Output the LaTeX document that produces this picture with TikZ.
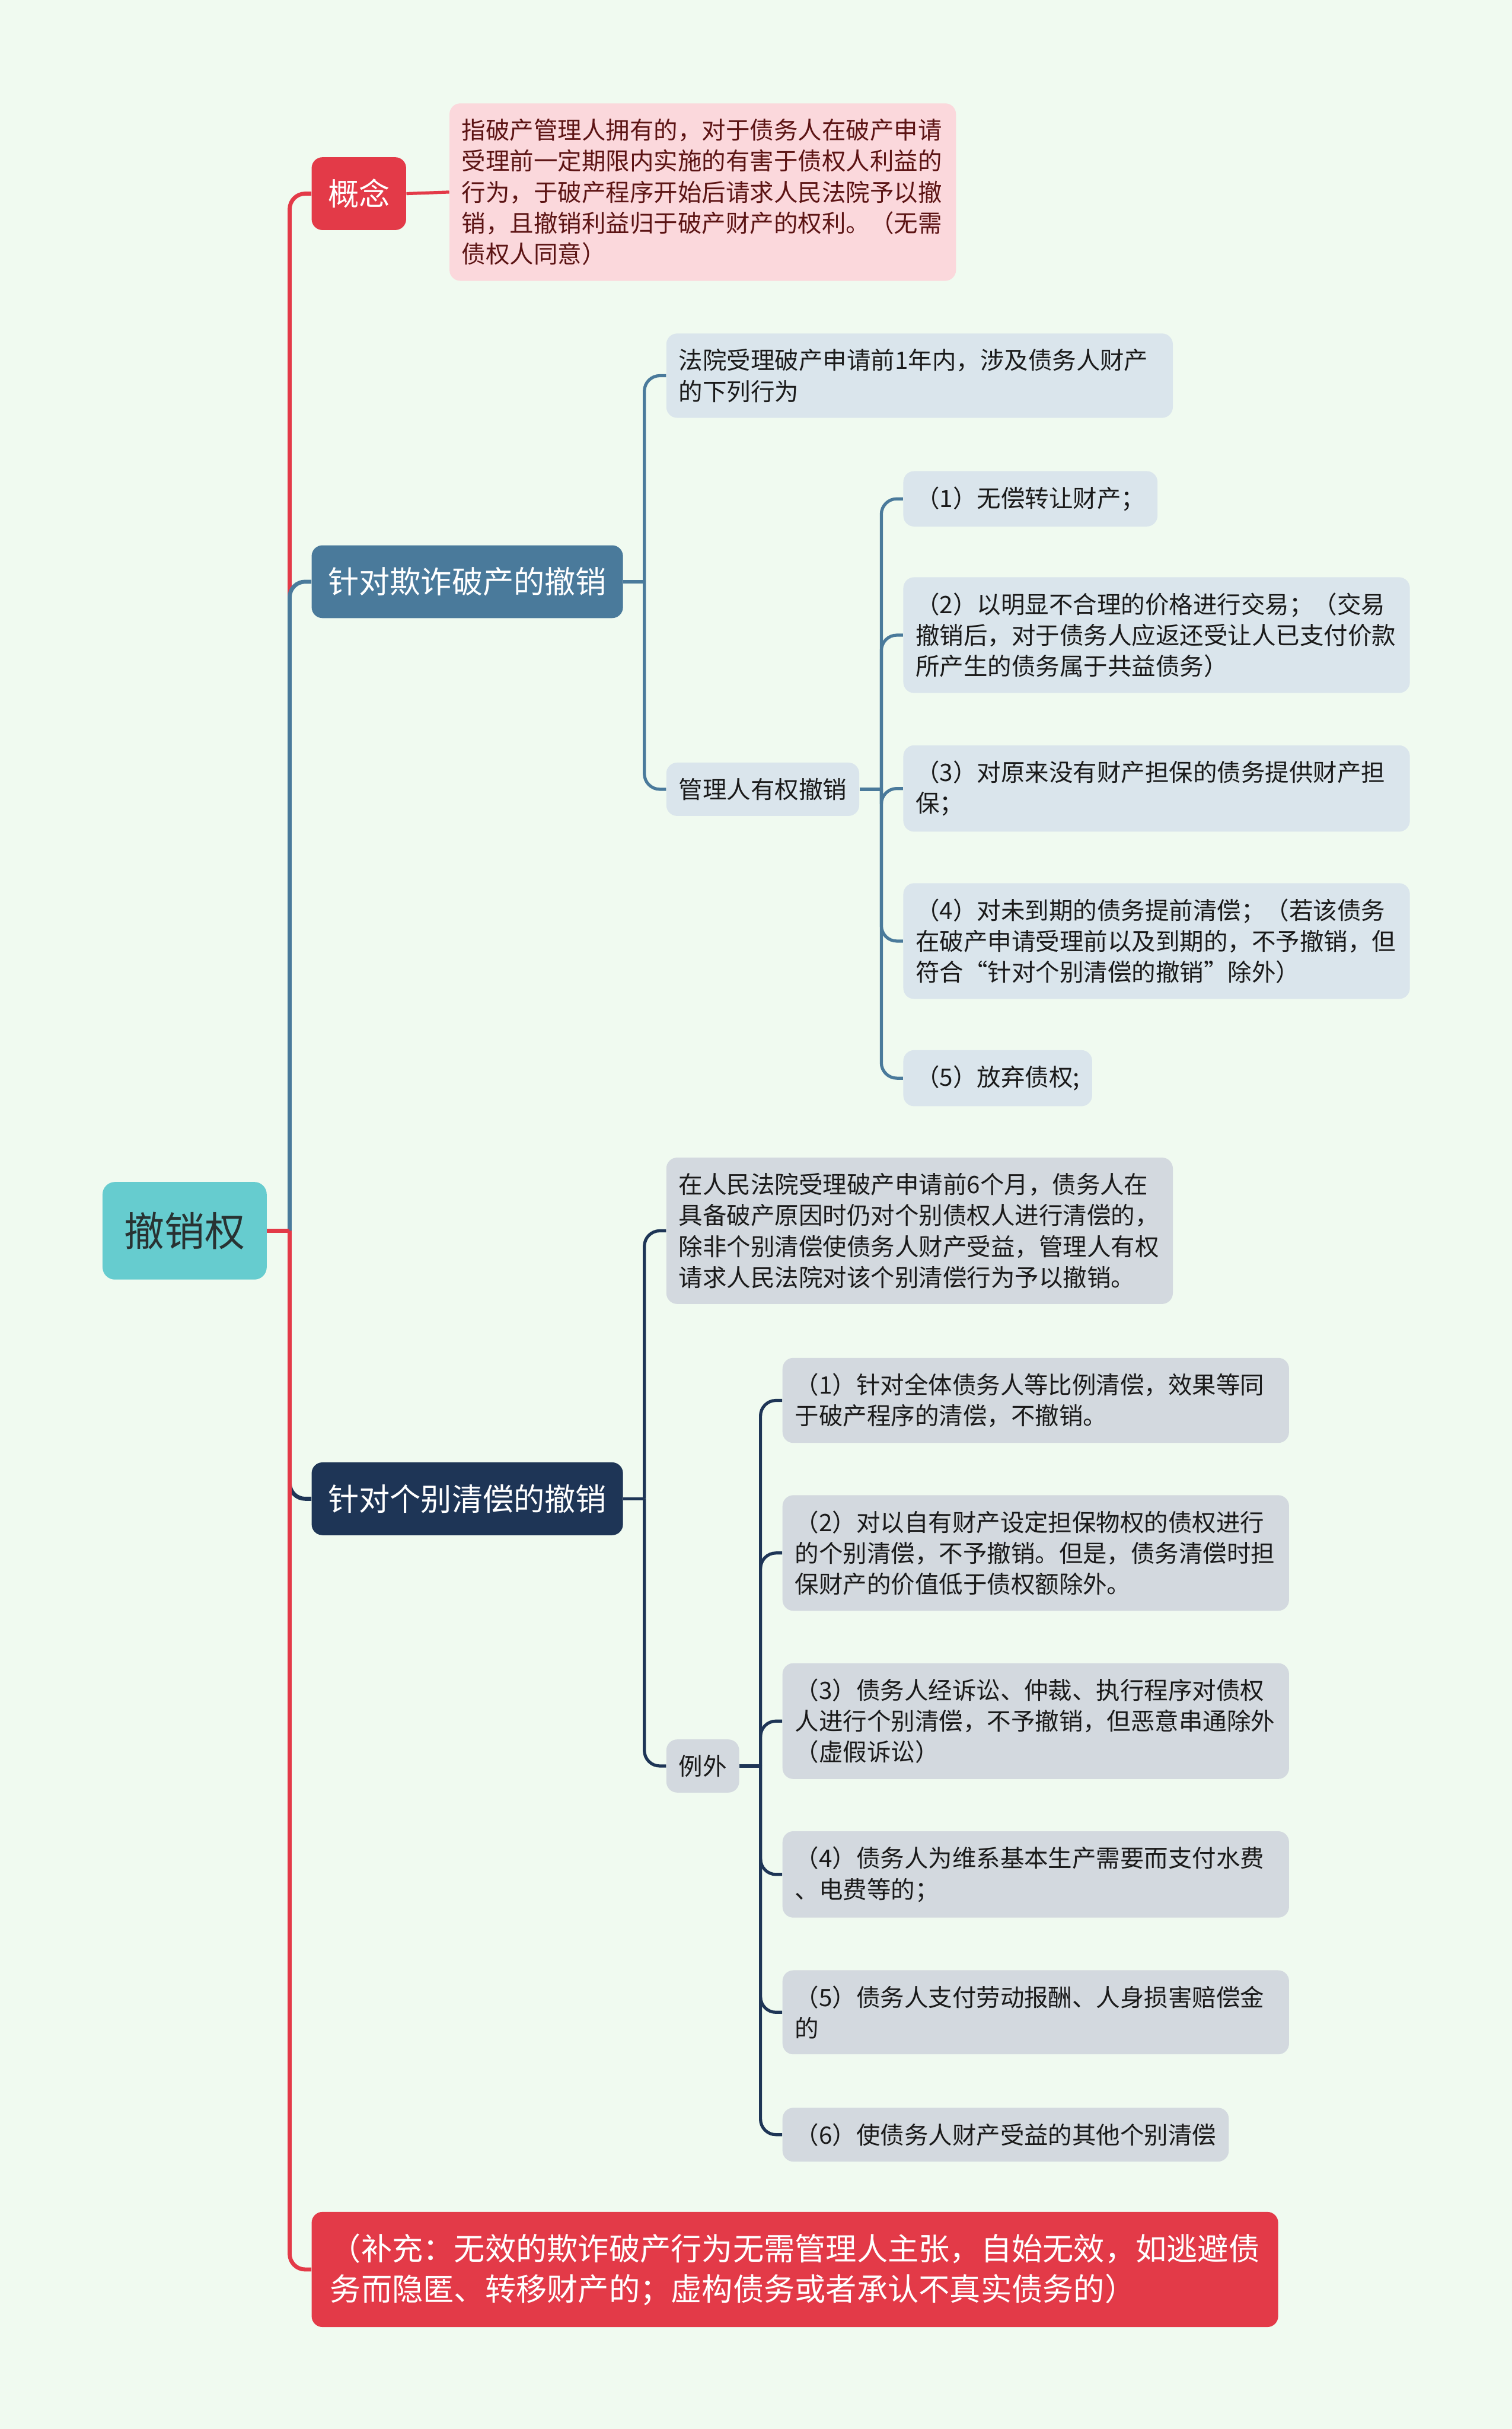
\documentclass[tikz,border=0pt]{standalone}
\usepackage{fontspec}
\setmainfont{Noto Sans CJK SC}
\usepackage{xcolor}
\definecolor{bg}{RGB}{240,250,240}
\definecolor{rootfill}{RGB}{102,204,207}
\definecolor{redfill}{RGB}{227,58,72}
\definecolor{steel}{RGB}{74,122,155}
\definecolor{navy}{RGB}{30,53,86}
\definecolor{pinkfill}{RGB}{251,216,220}
\definecolor{palefill}{RGB}{218,229,236}
\definecolor{grayfill}{RGB}{211,217,223}
\definecolor{maroon}{RGB}{92,20,20}
\definecolor{ink}{RGB}{26,26,26}

\tikzset{
  rootbox/.style={fill=rootfill, rounded corners=8pt, inner xsep=14pt,
    minimum height=63pt, anchor=west, text={rgb,255:red,40;green,50;blue,50},
    font=\fontsize{26}{30}\selectfont},
  topic/.style={rounded corners=7pt, inner xsep=10.5pt, minimum height=47pt,
    anchor=west, text=white, font=\fontsize{20}{26}\selectfont},
  leaf/.style={rounded corners=7pt, inner xsep=8pt, inner ysep=10pt,
    align=left, anchor=west, text=ink, font=\fontsize{15.5}{20}\selectfont},
  wide/.style={text width=311pt},
  link/.style={line width=2pt, rounded corners=10pt},
  trunk/.style={line width=2.6pt, rounded corners=10pt},
}

\begin{document}
\begin{tikzpicture}[x=1pt,y=-1pt]
  \fill[bg] (0,0) rectangle (976,1568);

  % root and main topics
  \node[rootbox] (root) at (66,794.5) {撤销权};
  \node[topic, fill=redfill] (concept) at (201,125) {概念};
  \node[topic, fill=steel] (fraud) at (201,375.5) {针对欺诈破产的撤销};
  \node[topic, fill=navy] (single) at (201,967.5) {针对个别清偿的撤销};
  \node[topic, fill=redfill, align=left, inner xsep=12pt, inner ysep=14pt] (extra) at (201,1465)
    {（补充：无效的欺诈破产行为无需管理人主张，自始无效，如逃避债\\
     务而隐匿、转移财产的；虚构债务或者承认不真实债务的）};

  % concept
  \node[leaf, wide, fill=pinkfill, text=maroon] (def) at (290,124)
    {指破产管理人拥有的，对于债务人在破产申请\\
     受理前一定期限内实施的有害于债权人利益的\\
     行为，于破产程序开始后请求人民法院予以撤\\
     销，且撤销利益归于破产财产的权利。（无需\\
     债权人同意）};

  % fraud branch
  \node[leaf, wide, fill=palefill] (court) at (430,242.5)
    {法院受理破产申请前1年内，涉及债务人财产\\
     的下列行为};
  \node[leaf, fill=palefill] (admin) at (430,509.5) {管理人有权撤销};
  \node[leaf, fill=palefill] (a1) at (583,322) {（1）无偿转让财产；};
  \node[leaf, wide, fill=palefill] (a2) at (583,410)
    {（2）以明显不合理的价格进行交易；（交易\\
     撤销后，对于债务人应返还受让人已支付价款\\
     所产生的债务属于共益债务）};
  \node[leaf, wide, fill=palefill] (a3) at (583,509)
    {（3）对原来没有财产担保的债务提供财产担\\
     保；};
  \node[leaf, wide, fill=palefill] (a4) at (583,607.5)
    {（4）对未到期的债务提前清偿；（若该债务\\
     在破产申请受理前以及到期的，不予撤销，但\\
     符合“针对个别清偿的撤销”除外）};
  \node[leaf, fill=palefill] (a5) at (583,696) {（5）放弃债权;};

  % single branch
  \node[leaf, wide, fill=grayfill] (rule) at (430,794.5)
    {在人民法院受理破产申请前6个月，债务人在\\
     具备破产原因时仍对个别债权人进行清偿的，\\
     除非个别清偿使债务人财产受益，管理人有权\\
     请求人民法院对该个别清偿行为予以撤销。};
  \node[leaf, fill=grayfill] (except) at (430,1140) {例外};
  \node[leaf, wide, fill=grayfill] (e1) at (505,904)
    {（1）针对全体债务人等比例清偿，效果等同\\
     于破产程序的清偿，不撤销。};
  \node[leaf, wide, fill=grayfill] (e2) at (505,1002.5)
    {（2）对以自有财产设定担保物权的债权进行\\
     的个别清偿，不予撤销。但是，债务清偿时担\\
     保财产的价值低于债权额除外。};
  \node[leaf, wide, fill=grayfill] (e3) at (505,1111)
    {（3）债务人经诉讼、仲裁、执行程序对债权\\
     人进行个别清偿，不予撤销，但恶意串通除外\\
     （虚假诉讼）};
  \node[leaf, wide, fill=grayfill] (e4) at (505,1210)
    {（4）债务人为维系基本生产需要而支付水费\\
     、电费等的；};
  \node[leaf, wide, fill=grayfill] (e5) at (505,1299)
    {（5）债务人支付劳动报酬、人身损害赔偿金\\
     的};
  \node[leaf, fill=grayfill] (e6) at (505,1378) {（6）使债务人财产受益的其他个别清偿};

  % junctions
  \coordinate (jr) at (187,794.5);
  \coordinate (jf) at (416,375.5);
  \coordinate (ja) at (569,509.5);
  \coordinate (js) at (416,967.5);
  \coordinate (je) at (491,1140);

  % connectors
  \draw[trunk, redfill] (jr) |- (concept.west);
  \draw[trunk, steel] (jr) |- (fraud.west);
  \draw[trunk, navy] (jr) |- (single.west);
  \draw[trunk, redfill] (jr) |- (extra.west);
  \draw[trunk, redfill, rounded corners=0pt] (root.east) -- (jr);
  \draw[link, redfill] (concept.east) -- (def.west);

  \draw[link, steel, rounded corners=0pt] (fraud.east) -- (jf);
  \foreach \n in {court, admin} \draw[link, steel] (jf) |- (\n.west);
  \draw[link, steel, rounded corners=0pt] (admin.east) -- (ja);
  \foreach \n in {a1, a2, a3, a4, a5} \draw[link, steel] (ja) |- (\n.west);

  \draw[link, navy, rounded corners=0pt] (single.east) -- (js);
  \foreach \n in {rule, except} \draw[link, navy] (js) |- (\n.west);
  \draw[link, navy, rounded corners=0pt] (except.east) -- (je);
  \foreach \n in {e1, e2, e3, e4, e5, e6} \draw[link, navy] (je) |- (\n.west);
\end{tikzpicture}
\end{document}
